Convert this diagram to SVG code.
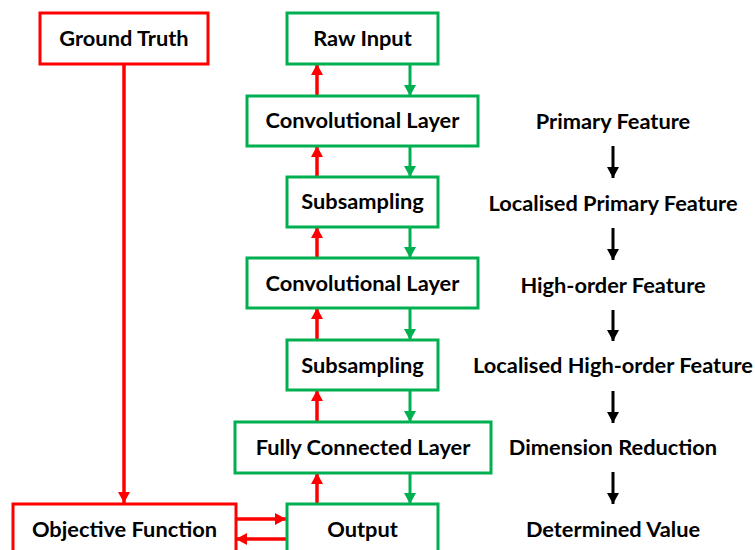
<svg xmlns="http://www.w3.org/2000/svg" width="755" height="550" viewBox="0 0 755 550">
<style>
.g{fill:#fff;stroke:#00b050;stroke-width:3}
.r{fill:#fff;stroke:#ff0000;stroke-width:3}
text{font-family:Lato,"Liberation Sans",sans-serif;font-weight:bold;font-size:21.8px;fill:#000;text-anchor:middle;dominant-baseline:central}
.lr{stroke:#ff0000;stroke-width:3.5;fill:none}
.lg{stroke:#00b050;stroke-width:3;fill:none}
.lb{stroke:#000;stroke-width:3;fill:none}
</style>
<defs>
<marker id="ar" markerWidth="12" markerHeight="12" refX="11" refY="6" orient="auto" markerUnits="userSpaceOnUse"><path d="M0,0L11,6L0,12z" fill="#ff0000"/></marker>
<marker id="ag" markerWidth="12" markerHeight="12" refX="11" refY="6" orient="auto" markerUnits="userSpaceOnUse"><path d="M0,0L11,6L0,12z" fill="#00b050"/></marker>
<marker id="ab" markerWidth="12" markerHeight="12" refX="11" refY="6" orient="auto" markerUnits="userSpaceOnUse"><path d="M0,0L11,6L0,12z" fill="#000"/></marker>
</defs>
<rect width="755" height="550" fill="#fff"/>
<g id="connectors">
<path class="lr" d="M124,64V503" marker-end="url(#ar)"/>
<path class="lr" d="M236,519H286" marker-end="url(#ar)"/>
<path class="lr" d="M286,539H236" marker-end="url(#ar)"/>
<path class="lr" d="M317,96V64" marker-end="url(#ar)"/>
<path class="lr" d="M317,177V146" marker-end="url(#ar)"/>
<path class="lr" d="M317,258V227" marker-end="url(#ar)"/>
<path class="lr" d="M317,340V308" marker-end="url(#ar)"/>
<path class="lr" d="M317,422V390" marker-end="url(#ar)"/>
<path class="lr" d="M317,504V473" marker-end="url(#ar)"/>
<path class="lg" d="M410,64V96" marker-end="url(#ag)"/>
<path class="lg" d="M410,146V177" marker-end="url(#ag)"/>
<path class="lg" d="M410,227V258" marker-end="url(#ag)"/>
<path class="lg" d="M410,308V340" marker-end="url(#ag)"/>
<path class="lg" d="M410,390V422" marker-end="url(#ag)"/>
<path class="lg" d="M410,473V504" marker-end="url(#ag)"/>
<path class="lb" d="M613,146V178" marker-end="url(#ab)"/>
<path class="lb" d="M613,228V260" marker-end="url(#ab)"/>
<path class="lb" d="M613,310V341" marker-end="url(#ab)"/>
<path class="lb" d="M613,391V423" marker-end="url(#ab)"/>
<path class="lb" d="M613,472V504" marker-end="url(#ab)"/>
</g>
<g id="ground-truth"><rect class="r" x="40" y="13" width="168" height="51"/><text x="124" y="37.5">Ground Truth</text></g>
<g id="raw-input"><rect class="g" x="287" y="13" width="151" height="51"/><text x="362.5" y="37.5">Raw Input</text></g>
<g id="conv1"><rect class="g" x="247" y="96" width="231" height="50"/><text x="362.5" y="119.5">Convolutional Layer</text></g>
<g id="sub1"><rect class="g" x="287" y="177" width="151" height="50"/><text x="362.5" y="200.5">Subsampling</text></g>
<g id="conv2"><rect class="g" x="247" y="258" width="231" height="50"/><text x="362.5" y="282.5">Convolutional Layer</text></g>
<g id="sub2"><rect class="g" x="287" y="340" width="151" height="50"/><text x="362.5" y="364.5">Subsampling</text></g>
<g id="fc"><rect class="g" x="235" y="422" width="256" height="51"/><text x="363" y="446.5">Fully Connected Layer</text></g>
<g id="output"><rect class="g" x="287" y="504" width="151" height="60"/><text x="362.5" y="528.5">Output</text></g>
<g id="objective"><rect class="r" x="13" y="504" width="223" height="60"/><text x="124.5" y="528.5">Objective Function</text></g>
<g id="f1"><text x="613" y="120.5">Primary Feature</text></g>
<g id="f2"><text x="613" y="202.5">Localised Primary Feature</text></g>
<g id="f3"><text x="613" y="284.5">High-order Feature</text></g>
<g id="f4"><text x="613" y="364.5">Localised High-order Feature</text></g>
<g id="f5"><text x="613" y="446.5">Dimension Reduction</text></g>
<g id="f6"><text x="613" y="528.5">Determined Value</text></g>
</svg>
